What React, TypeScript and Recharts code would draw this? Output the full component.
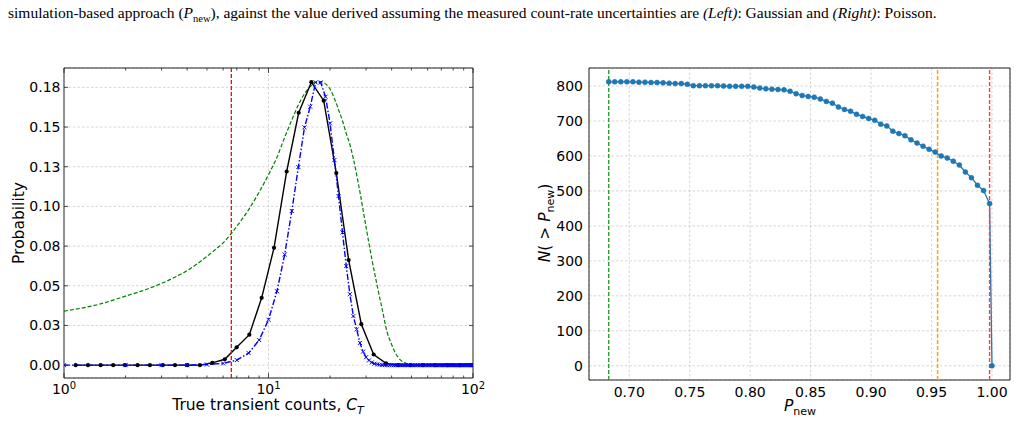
import React from 'react'
import {
  LineChart, Line, XAxis, YAxis, CartesianGrid, ReferenceLine, ReferenceArea,
} from 'recharts'

// ---------- left panel: probability vs true transient counts ----------
const simCounts = [
  1.14, 1.31, 1.51, 1.74, 1.99, 2.29, 2.63, 3.04, 3.49, 4.01, 4.62, 5.31, 6.11, 6.99, 8.06,
  9.26, 10.64, 12.27, 14.05, 16.2, 18.62, 21.46, 24.66, 28.44, 32.68, 37.56, 43.1, 49.5, 56.9,
  65.3, 75.0, 86.2, 99.0,
]
const simProb = [
  0, 0, 0, 0, 0, 0, 0, 0, 0, 0, 0, 0.0014, 0.0037, 0.0112, 0.0192,
  0.0424, 0.0739, 0.122, 0.159, 0.1783, 0.1666, 0.121, 0.0662, 0.0258, 0.0067, 0.0011, 0, 0, 0,
  0, 0, 0, 0,
]
const poisCounts = [
  1, 2, 3, 4, 5, 6, 7, 8, 9, 10, 11, 12, 13, 14, 15, 16, 17, 18, 19, 20,
  21, 22, 23, 24, 25, 26, 27, 28, 29, 30, 31, 32, 33, 34, 35, 36, 37, 38, 39, 40,
  41, 42, 43, 44, 45, 46, 47, 48, 49, 50, 51, 52, 53, 54, 55, 56, 57, 58, 59, 60,
  61, 62, 63, 64, 65, 66, 67, 68, 69, 70, 71, 72, 73, 74, 75, 76, 77, 78, 79, 80,
  81, 82, 83, 84, 85, 86, 87, 88, 89, 90, 91, 92, 93, 94, 95, 96, 97, 98, 99, 100,
]
const poisProb = [
  0, 0, 0, 0, 0.0004, 0.0011, 0.0032, 0.0076, 0.0158, 0.0286, 0.0466, 0.0697, 0.0971, 0.1248, 0.1498, 0.1628, 0.1781, 0.1781, 0.1691, 0.1523,
  0.1292, 0.1065, 0.0836, 0.0624, 0.0447, 0.0309, 0.0225, 0.014, 0.0085, 0.005, 0.003, 0.0017, 0.0009, 0.0005, 0.0003, 0.0001, 0, 0, 0, 0,
  0, 0, 0, 0, 0, 0, 0, 0, 0, 0, 0, 0, 0, 0, 0, 0, 0, 0, 0, 0,
  0, 0, 0, 0, 0, 0, 0, 0, 0, 0, 0, 0, 0, 0, 0, 0, 0, 0, 0, 0,
  0, 0, 0, 0, 0, 0, 0, 0, 0, 0, 0, 0, 0, 0, 0, 0, 0, 0, 0, 0,
]
const gaussCounts = [
  1, 1.5, 2, 2.5, 3, 3.5, 4, 4.5, 5, 5.5, 6, 7, 8, 9, 10, 11, 12, 13, 14, 15, 16, 17, 18,
  19, 20, 21, 22, 23, 24, 25, 26, 28, 30, 32, 34, 36, 38, 40, 42, 44, 47, 50, 55, 70, 100,
]
const gaussProb = [
  0.034, 0.0385, 0.0435, 0.0475, 0.0515, 0.0555, 0.0595, 0.064, 0.0685, 0.0728, 0.077, 0.0875, 0.098, 0.109, 0.12, 0.131, 0.1435, 0.1545, 0.164, 0.171, 0.1755, 0.1782, 0.1787,
  0.1772, 0.174, 0.168, 0.161, 0.154, 0.146, 0.139, 0.13, 0.109, 0.087, 0.067, 0.05, 0.035, 0.021, 0.013, 0.007, 0.0035, 0.0012, 0.0003, 0, 0, 0,
]
const detectLimit = 6.58

const leftXMajor = [1, 10, 100]
const leftXMinor = [2, 3, 4, 5, 6, 7, 8, 9, 20, 30, 40, 50, 60, 70, 80, 90]
const leftYTicks = [0, 0.025, 0.05, 0.075, 0.1, 0.125, 0.15, 0.175]
const leftYLabels = ['0.00', '0.03', '0.05', '0.08', '0.10', '0.13', '0.15', '0.18']
const leftXDomain = [1, 100]
const leftYDomain = [-0.0081, 0.1872]

// ---------- right panel: N(>P_new) vs P_new ----------
const pNew = [
  0.683, 0.688, 0.693, 0.698, 0.703, 0.708, 0.713, 0.718, 0.723, 0.728, 0.733, 0.738, 0.743, 0.748, 0.753, 0.758,
  0.763, 0.768, 0.773, 0.778, 0.783, 0.788, 0.793, 0.798, 0.803, 0.808, 0.813, 0.818, 0.823, 0.828, 0.833, 0.838,
  0.843, 0.848, 0.853, 0.858, 0.863, 0.868, 0.873, 0.878, 0.883, 0.888, 0.893, 0.898, 0.903, 0.908, 0.913, 0.918,
  0.923, 0.928, 0.933, 0.938, 0.943, 0.948, 0.953, 0.958, 0.963, 0.968, 0.973, 0.978, 0.983, 0.988, 0.993, 0.998,
  1.0,
]
const nAbove = [
  812, 812, 812, 812, 812, 811, 811, 810, 810, 809, 808, 807, 807, 805, 801, 801,
  801, 801, 801, 800, 799, 799, 799, 799, 797, 794, 792, 791, 790, 789, 785, 778,
  773, 770, 768, 763, 756, 751, 740, 733, 728, 719, 713, 707, 702, 691, 686, 671,
  664, 658, 646, 637, 628, 619, 611, 600, 594, 585, 574, 554, 538, 516, 501, 464,
  0,
]
const rightXTicks = [0.7, 0.75, 0.8, 0.85, 0.9, 0.95, 1.0]
const rightYTicks = [0, 100, 200, 300, 400, 500, 600, 700, 800]
const rightXDomain = [0.6667, 1.0149]
const rightYDomain = [-40.6, 851.5]
const threshGreen = 0.683
const threshOrange = 0.955
const threshRed = 0.998

const simData = simCounts.map((x, i) => ({ x, y: simProb[i] }))
const poisData = poisCounts.map((x, i) => ({ x, y: poisProb[i] }))
const gaussData = gaussCounts.map((x, i) => ({ x, y: gaussProb[i] }))
const rightData = pNew.map((x, i) => ({ x, n: nAbove[i] }))

const FONT = '"DejaVu Sans", Verdana, sans-serif'
const GRID = '#cccccc'
const TICK_FS = 14

// left plot box (inside a 500x423 chart placed at 0,0)
const L = { left: 64, right: 473, top: 68, bottom: 378 }
// right plot box (inside a 480x423 chart placed at 540,0)
const R = { left: 49, right: 470, top: 68, bottom: 380 }

function LeftXTick(props: any) {
  const { x, payload } = props
  const v = payload.value
  const major = leftXMajor.includes(v)
  const len = major ? 5 : 2.5
  const exp = Math.round(Math.log10(v))
  return (
    <g>
      <line x1={x} x2={x} y1={L.bottom} y2={L.bottom - len} stroke="#222" strokeWidth={0.8} />
      <line x1={x} x2={x} y1={L.top} y2={L.top + len} stroke="#222" strokeWidth={0.8} />
      {major && (
        <text x={x} y={394} textAnchor="middle" fontFamily={FONT} fontSize={TICK_FS} fill="#000">
          <tspan>10</tspan>
          <tspan dy={-5.5} fontSize={10}>{exp}</tspan>
        </text>
      )}
    </g>
  )
}

function LeftYTick(props: any) {
  const { y, payload } = props
  const i = leftYTicks.indexOf(payload.value)
  return (
    <g>
      <line x1={L.left} x2={L.left + 4} y1={y} y2={y} stroke="#222" strokeWidth={0.8} />
      <line x1={L.right - 4} x2={L.right} y1={y} y2={y} stroke="#222" strokeWidth={0.8} />
      <text x={L.left - 3.5} y={y + 5} textAnchor="end" fontFamily={FONT} fontSize={TICK_FS} fill="#000">
        {leftYLabels[i]}
      </text>
    </g>
  )
}

function RightXTick(props: any) {
  const { x, payload } = props
  return (
    <text x={x} y={396.5} textAnchor="middle" fontFamily={FONT} fontSize={TICK_FS} fill="#000">
      {payload.value.toFixed(2)}
    </text>
  )
}

function RightYTick(props: any) {
  const { y, payload } = props
  return (
    <text x={R.left - 6} y={y + 5} textAnchor="end" fontFamily={FONT} fontSize={TICK_FS} fill="#000">
      {payload.value}
    </text>
  )
}

function Cross(props: any) {
  const { cx, cy, index } = props
  if (cx == null || cy == null) return <g key={`c-${index}`} />
  const s = 2
  return (
    <path
      key={`c-${index}`}
      d={`M${cx - s},${cy - s}L${cx + s},${cy + s}M${cx - s},${cy + s}L${cx + s},${cy - s}`}
      stroke="#0000ff"
      strokeWidth={1}
    />
  )
}

const label: React.CSSProperties = {
  position: 'absolute',
  fontFamily: FONT,
  fontSize: 15.5,
  lineHeight: 1,
  color: '#000',
  whiteSpace: 'nowrap',
  transform: 'translate(-50%, -50%)',
}

export default function App() {
  return (
    <div style={{ position: 'absolute', left: 0, top: 0, width: 1020, height: 423, background: '#fff', overflow: 'hidden' }}>
      <div
        style={{
          position: 'absolute', left: 8, top: 4, fontFamily: '"Liberation Serif", "Times New Roman", serif',
          fontSize: 15.5, whiteSpace: 'nowrap', color: '#000',
        }}
      >
        simulation-based approach (<i>P</i><sub style={{ fontSize: 10.5 }}>new</sub>), against the value derived assuming the
        measured count-rate uncertainties are <i>(Left)</i>: Gaussian and <i>(Right)</i>: Poisson.
      </div>

      <div style={{ position: 'absolute', left: 0, top: 0 }}>
        <LineChart width={500} height={423} margin={{ top: L.top, right: 500 - L.right, left: 0, bottom: 0 }}>
          <CartesianGrid vertical={false} stroke={GRID} strokeDasharray="2.5 2" strokeWidth={0.8} />
          <XAxis
            type="number"
            dataKey="x"
            scale="log"
            domain={leftXDomain}
            allowDataOverflow
            ticks={[...leftXMajor, ...leftXMinor]}
            interval={0}
            tick={(p: any) => <LeftXTick {...p} />}
            tickLine={false}
            axisLine={false}
            height={423 - L.bottom}
          />
          <YAxis
            type="number"
            domain={leftYDomain}
            allowDataOverflow
            ticks={leftYTicks}
            interval={0}
            tick={(p: any) => <LeftYTick {...p} />}
            tickLine={false}
            axisLine={false}
            width={L.left}
          />
          <ReferenceLine x={10} stroke={GRID} strokeDasharray="2.5 2" strokeWidth={0.8} />
          <Line data={gaussData} dataKey="y" stroke="#008000" strokeWidth={1.2} strokeDasharray="4 2" dot={false} type="monotone" isAnimationActive={false} />
          <Line data={simData} dataKey="y" stroke="#000" strokeWidth={1.4} dot={{ r: 2.1, fill: '#000', stroke: '#000', strokeWidth: 0 }} isAnimationActive={false} />
          <Line data={poisData} dataKey="y" stroke="#0000ff" strokeWidth={1.4} strokeDasharray="6 2 1.5 2" dot={(p: any) => <Cross {...p} />} isAnimationActive={false} />
          <ReferenceLine x={detectLimit} stroke="#ff0000" strokeWidth={1.3} strokeDasharray="4 2" />
          <ReferenceArea
            x1={leftXDomain[0]} x2={leftXDomain[1]} y1={leftYDomain[0]} y2={leftYDomain[1]}
            fill="none" fillOpacity={0} stroke="#222" strokeWidth={1} ifOverflow="visible"
          />
        </LineChart>
      </div>

      <div style={{ ...label, left: 20, top: 223, transform: 'translate(-50%, -50%) rotate(-90deg)' }}>Probability</div>
      <div style={{ ...label, left: 268, top: 407 }}>
        True transient counts, <i>C</i><sub style={{ fontSize: 11, fontStyle: 'italic', lineHeight: 1 }}>T</sub>
      </div>

      <div style={{ position: 'absolute', left: 540, top: 0 }}>
        <LineChart width={480} height={423} margin={{ top: R.top, right: 480 - R.right, left: 0, bottom: 0 }}>
          <CartesianGrid stroke={GRID} strokeDasharray="2.5 2" strokeWidth={0.8} />
          <XAxis
            type="number"
            dataKey="x"
            domain={rightXDomain}
            allowDataOverflow
            ticks={rightXTicks}
            interval={0}
            tick={(p: any) => <RightXTick {...p} />}
            tickLine={false}
            axisLine={false}
            height={423 - R.bottom}
          />
          <YAxis
            type="number"
            domain={rightYDomain}
            allowDataOverflow
            ticks={rightYTicks}
            interval={0}
            tick={(p: any) => <RightYTick {...p} />}
            tickLine={false}
            axisLine={false}
            width={R.left}
          />
          <ReferenceLine x={threshGreen} stroke="#2ca02c" strokeWidth={1.4} strokeDasharray="4 2" />
          <ReferenceLine x={threshOrange} stroke="#ffa500" strokeWidth={1.5} strokeDasharray="4 2" />
          <Line data={rightData} dataKey="n" stroke="#1f77b4" strokeWidth={1.3} dot={{ r: 2.5, fill: '#1f77b4', stroke: '#1f77b4', strokeWidth: 0.5 }} isAnimationActive={false} />
          <ReferenceLine x={threshRed} stroke="#ff3b3b" strokeWidth={1.4} strokeDasharray="4 2" />
          <ReferenceArea
            x1={rightXDomain[0]} x2={rightXDomain[1]} y1={rightYDomain[0]} y2={rightYDomain[1]}
            fill="none" fillOpacity={0} stroke="#222" strokeWidth={1} ifOverflow="visible"
          />
        </LineChart>
      </div>

      <div style={{ ...label, left: 547, top: 223, transform: 'translate(-50%, -50%) rotate(-90deg)' }}>
        <i>N</i>( &gt; <i>P</i><sub style={{ fontSize: 11, lineHeight: 1 }}>new</sub>)
      </div>
      <div style={{ ...label, left: 800, top: 408 }}>
        <i>P</i><sub style={{ fontSize: 11, lineHeight: 1 }}>new</sub>
      </div>
    </div>
  )
}
